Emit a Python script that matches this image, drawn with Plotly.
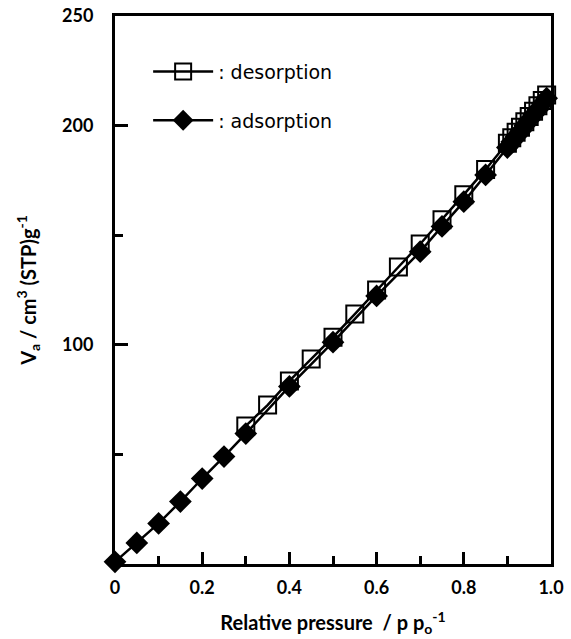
import plotly.graph_objects as go

# ---- data ----
ads_p = [0.00, 0.05, 0.10, 0.15, 0.20, 0.25, 0.30, 0.40, 0.50, 0.60, 0.70, 0.75,
         0.80, 0.85, 0.90, 0.91, 0.92, 0.93, 0.94, 0.95, 0.96, 0.97, 0.98, 0.99]
ads_v = [1.0, 9.6, 18.5, 28.5, 39.0, 49.0, 59.5, 81.0, 101.2, 122.3, 142.5, 154.0,
         165.3, 177.5, 190.0, 192.6, 195.0, 197.4, 200.1, 202.5, 205.0, 207.3, 210.0, 212.5]

des_p = [0.30, 0.35, 0.40, 0.45, 0.50, 0.55, 0.60, 0.65, 0.70, 0.75, 0.80, 0.85,
         0.90, 0.91, 0.92, 0.93, 0.94, 0.95, 0.96, 0.97, 0.98, 0.99]
des_v = [63.0, 72.5, 83.5, 93.5, 103.5, 114.0, 125.0, 135.5, 146.0, 157.0, 168.5, 180.0,
         192.0, 194.5, 197.0, 199.3, 201.8, 204.2, 206.5, 209.0, 211.5, 214.0]

x_tickvals = [0, 0.2, 0.4, 0.6, 0.8, 1.0]
x_ticktext = ["0", "0.2", "0.4", "0.6", "0.8", "1.0"]
x_minorvals = [0.1, 0.3, 0.5, 0.7, 0.9]
y_tickvals = [100, 200, 250]
y_ticktext = ["100", "200", "250"]
y_minorvals = [50, 150]

FONT = "Lato"

fig = go.Figure()
fig.add_trace(go.Scatter(
    x=des_p, y=des_v, mode="lines+markers", name=": desorption",
    legendgroup="d",
    line=dict(color="black", width=2.5),
    marker=dict(symbol="square-open", size=17, color="black", line=dict(width=2, color="black")),
    cliponaxis=False,
))
fig.add_trace(go.Scatter(
    x=ads_p, y=ads_v, mode="lines+markers", name=": adsorption",
    legendgroup="a",
    line=dict(color="black", width=2.5),
    marker=dict(symbol="diamond", size=17.5, color="black", line=dict(width=0)),
    cliponaxis=False,
))

axis_common = dict(
    showline=True, linecolor="black", linewidth=3, mirror=True,
    ticks="inside", tickcolor="black", tickwidth=3,
    showgrid=False, zeroline=False, automargin=False,
    tickfont=dict(family=FONT, size=18, color="black", weight="bold"),
)

fig.update_xaxes(
    range=[0, 1.0], tickmode="array", tickvals=x_tickvals, ticktext=x_ticktext,
    ticklen=12, ticklabelstandoff=5,
    minor=dict(tickmode="array", tickvals=x_minorvals, ticks="inside",
               ticklen=8, tickwidth=3, tickcolor="black"),
    title=dict(text="Relative pressure  / p p<sub>o</sub><sup>-1</sup>",
               font=dict(family=FONT, size=20, color="black", weight="bold"), standoff=20),
    **axis_common,
)
fig.update_yaxes(
    range=[0, 250], tickmode="array", tickvals=y_tickvals, ticktext=y_ticktext,
    ticklen=13, ticklabelstandoff=15,
    minor=dict(tickmode="array", tickvals=y_minorvals, ticks="inside",
               ticklen=8, tickwidth=3, tickcolor="black"),
    title=dict(text="V<sub>a</sub> / cm<sup>3</sup> (STP)g<sup>-1</sup>",
               font=dict(family=FONT, size=20, color="black", weight="bold"), standoff=21),
    **axis_common,
)

fig.update_layout(
    width=571, height=639,
    margin=dict(l=115, r=20, t=16, b=75),
    paper_bgcolor="white", plot_bgcolor="white",
    showlegend=True,
    legend=dict(
        x=0.076, y=0.933, xanchor="left", yanchor="top",
        bgcolor="rgba(0,0,0,0)", borderwidth=0,
        traceorder="grouped", tracegroupgap=21, itemwidth=60,
        font=dict(family="DejaVu Sans", size=19, color="black"),
    ),
)

fig.write_html(
    "out.html",
    config={"displayModeBar": False},
    post_script="document.body.style.margin='0';document.body.style.overflow='hidden';",
)
